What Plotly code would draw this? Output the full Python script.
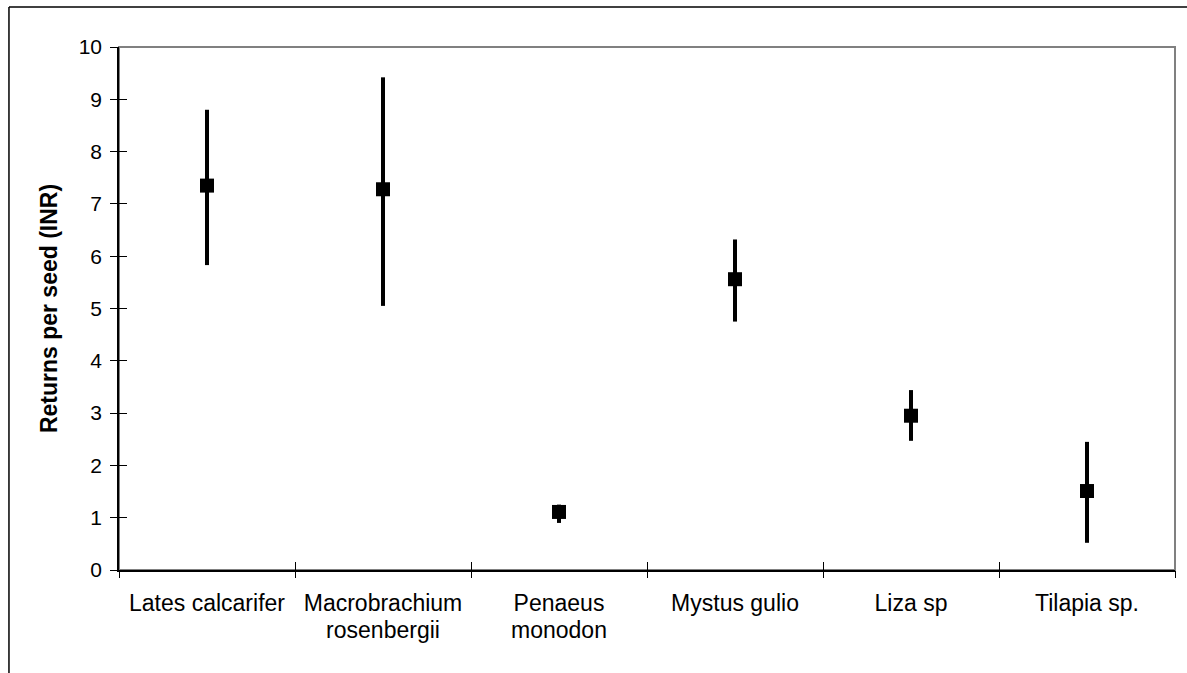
import plotly.graph_objects as go

# Species and return per seed (INR): mean with lower/upper range
species = ["Lates calcarifer", "Macrobrachium", "Penaeus",
           "Mystus gulio", "Liza sp", "Tilapia sp."]
species_line2 = ["", "rosenbergii", "monodon", "", "", ""]
mean_return = [7.35, 7.28, 1.11, 5.56, 2.95, 1.51]
upper_return = [8.80, 9.42, 1.25, 6.32, 3.44, 2.45]
lower_return = [5.83, 5.05, 0.90, 4.75, 2.47, 0.52]
y_ticks = [0, 1, 2, 3, 4, 5, 6, 7, 8, 9, 10]

err_plus = [u - m for u, m in zip(upper_return, mean_return)]
err_minus = [m - l for m, l in zip(mean_return, lower_return)]

FONT = "Liberation Sans, Arial, sans-serif"
positions = list(range(len(species)))
boundaries = [p - 0.5 for p in positions] + [positions[-1] + 0.5]

fig = go.Figure()
fig.add_trace(go.Scatter(
    x=positions, y=mean_return, mode="markers",
    marker=dict(symbol="square", size=14, color="black", line=dict(width=0)),
    error_y=dict(type="data", symmetric=False, array=err_plus, arrayminus=err_minus,
                 color="black", thickness=4, width=0),
    showlegend=False, hoverinfo="skip",
))
# helper traces so the overlay axes get drawn
for xa, ya in [("x2", "y2"), ("x3", "y"), ("x4", "y2")]:
    fig.add_trace(go.Scatter(x=[None], y=[None], xaxis=xa, yaxis=ya,
                             showlegend=False, hoverinfo="skip"))

common_x = dict(range=[-0.5, 5.5], showgrid=False, zeroline=False, fixedrange=True)
tick_style = dict(tickwidth=1, tickcolor="black")

fig.update_layout(
    width=1187, height=673,
    margin=dict(l=119, r=12, t=47, b=103),
    paper_bgcolor="white", plot_bgcolor="white",
    font=dict(family=FONT, size=21, color="black"),
    # category axis with the first line of each label
    xaxis=dict(
        **common_x, tickvals=positions, ticktext=species,
        showline=True, linecolor="black", linewidth=1.5,
        ticks="", ticklabelstandoff=12,
        tickfont=dict(family=FONT, size=23),
    ),
    # boundary tick marks, outward half
    xaxis2=dict(
        **common_x, **tick_style, overlaying="x", anchor="y2", tickvals=boundaries,
        ticks="outside", ticklen=7, showticklabels=False, showline=False,
    ),
    # second line of the two-word category labels
    xaxis3=dict(
        **common_x, overlaying="x", anchor="y", tickvals=positions, ticktext=species_line2,
        ticks="", ticklabelstandoff=44, showline=False,
        tickfont=dict(family=FONT, size=23),
    ),
    # boundary tick marks, inward half
    xaxis4=dict(
        **common_x, **tick_style, overlaying="x", anchor="y2", tickvals=boundaries,
        ticks="inside", ticklen=8, showticklabels=False, showline=False,
    ),
    yaxis=dict(
        range=[0, 10], tickvals=y_ticks, showgrid=False, zeroline=False,
        showline=True, linecolor="black", linewidth=1.5,
        ticks="outside", ticklen=7, **tick_style,
        ticklabelstandoff=4,
        tickfont=dict(family=FONT, size=21),
        title=dict(text="<b>Returns per seed (INR)</b>", font=dict(family=FONT, size=23),
                   standoff=15),
        fixedrange=True,
    ),
    # value tick marks, inward half
    yaxis2=dict(
        overlaying="y", range=[0, 10], tickvals=y_ticks,
        ticks="inside", ticklen=8, **tick_style,
        showticklabels=False, showgrid=False, zeroline=False, showline=False,
        anchor="x2", side="left", fixedrange=True,
    ),
    shapes=[
        # grey frame around the plotting area
        dict(type="rect", xref="paper", yref="paper", x0=0, y0=0, x1=1, y1=1,
             line=dict(color="#808080", width=2), layer="below"),
        # outer chart frame (left and top edges)
        dict(type="line", xref="paper", yref="paper", x0=-0.1042, x1=-0.1042,
             y0=1.0765, y1=-0.25, line=dict(color="black", width=1.5)),
        dict(type="line", xref="paper", yref="paper", x0=-0.1042, x1=1.05,
             y0=1.0765, y1=1.0765, line=dict(color="black", width=1.5)),
    ],
)

fig.write_html("out.html")
